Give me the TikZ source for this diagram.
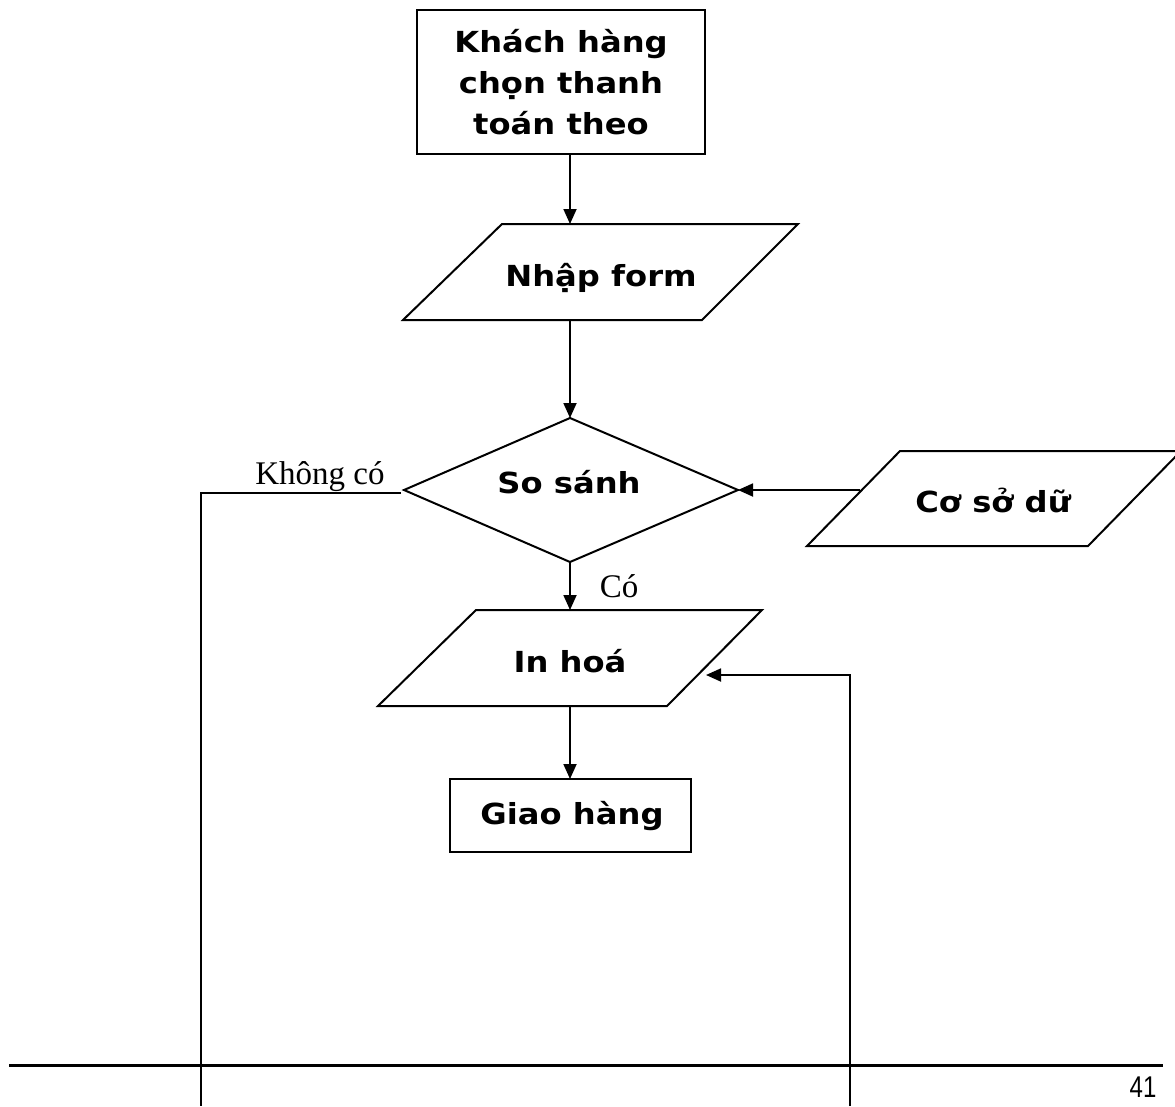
\documentclass[tikz,border=0pt]{standalone}
\usepackage{fontspec}
\setmainfont{Liberation Serif}
\newfontfamily\boxfont{DejaVu Sans}[FakeStretch=1.11]
\newfontfamily\numfont{Liberation Sans}[FakeStretch=0.8]
\usetikzlibrary{arrows.meta}
\begin{document}
\begin{tikzpicture}[x=1pt,y=-1pt,
  outline/.style={draw=black,line width=2pt,line join=miter},
  boxtxt/.style={font=\boxfont\bfseries\fontsize{29}{41}\selectfont,inner sep=0pt,anchor=base},
  lbl/.style={font=\fontsize{33}{36}\selectfont,inner sep=0pt,anchor=base},
  conn/.style={line width=1.8pt},
  arr/.style={conn,-{Triangle[length=15pt,width=13pt]}}]
\useasboundingbox (0,0) rectangle (1175,1106);

% Khach hang box
\node[outline,minimum width=288pt,minimum height=144pt,inner sep=0pt,align=center,
  font=\boxfont\bfseries\fontsize{29}{41}\selectfont] (kh) at (561,82)
  {Khách hàng\\chọn thanh\\toán theo};

% Nhap form parallelogram
\draw[outline] (403,320) -- (502,224) -- (798,224) -- (702,320) -- cycle;
\node[boxtxt] (nhap) at (601,286) {Nhập form};
\coordinate (nhapT) at (570,224);
\coordinate (nhapB) at (570,320);

% So sanh diamond
\draw[outline] (404,490) -- (570,418) -- (738,490) -- (570,562) -- cycle;
\node[boxtxt] (ss) at (569,493) {So sánh};
\coordinate (ssT) at (570,418);
\coordinate (ssB) at (570,562);
\coordinate (ssL) at (401,493);
\coordinate (ssR) at (738,490);

% Co so du lieu parallelogram
\draw[outline] (807,546) -- (900,451) -- (1181,451) -- (1088,546) -- cycle;
\node[boxtxt] (csdl) at (993,512) {Cơ sở dữ};
\coordinate (csdlL) at (860,490);

% In hoa parallelogram
\draw[outline] (378,706) -- (476,610) -- (762,610) -- (667,706) -- cycle;
\node[boxtxt] (inhoa) at (570,672) {In hoá};
\coordinate (inT) at (570,610);
\coordinate (inB) at (570,706);
\coordinate (inR) at (706,675);

% Giao hang box
\node[outline,minimum width=241pt,minimum height=73pt,inner sep=0pt] (gh) at (570.5,815.5) {};
\node[boxtxt] (ghT) at (572,824) {Giao hàng};
\coordinate (ghT0) at (570,779);

% labels
\node[lbl] (khong) at (320,484) {Không có};
\node[lbl] (co) at (619,597) {Có};

% free ends
\coordinate (leftBot) at (201,1106);
\coordinate (rightBot) at (850,1106);
\coordinate (ruleL) at (9,1065);
\coordinate (ruleR) at (1163,1065);

% connectors
\draw[arr] (kh.south -| nhapT) -- (nhapT);
\draw[arr] (nhapB) -- (ssT);
\draw[arr] (csdlL) -- (ssR);
\draw[arr] (ssB) -- (inT);
\draw[arr] (inB) -- (ghT0);
\draw[conn] (ssL) -| (leftBot);
\draw[arr] (rightBot) |- (inR);

% footer rule and page number
\draw[line width=3pt] (ruleL) -- (ruleR);
\node[font=\numfont\fontsize{30}{32}\selectfont,inner sep=0pt,anchor=base] (pg) at (1143,1097) {41};
\end{tikzpicture}
\end{document}
